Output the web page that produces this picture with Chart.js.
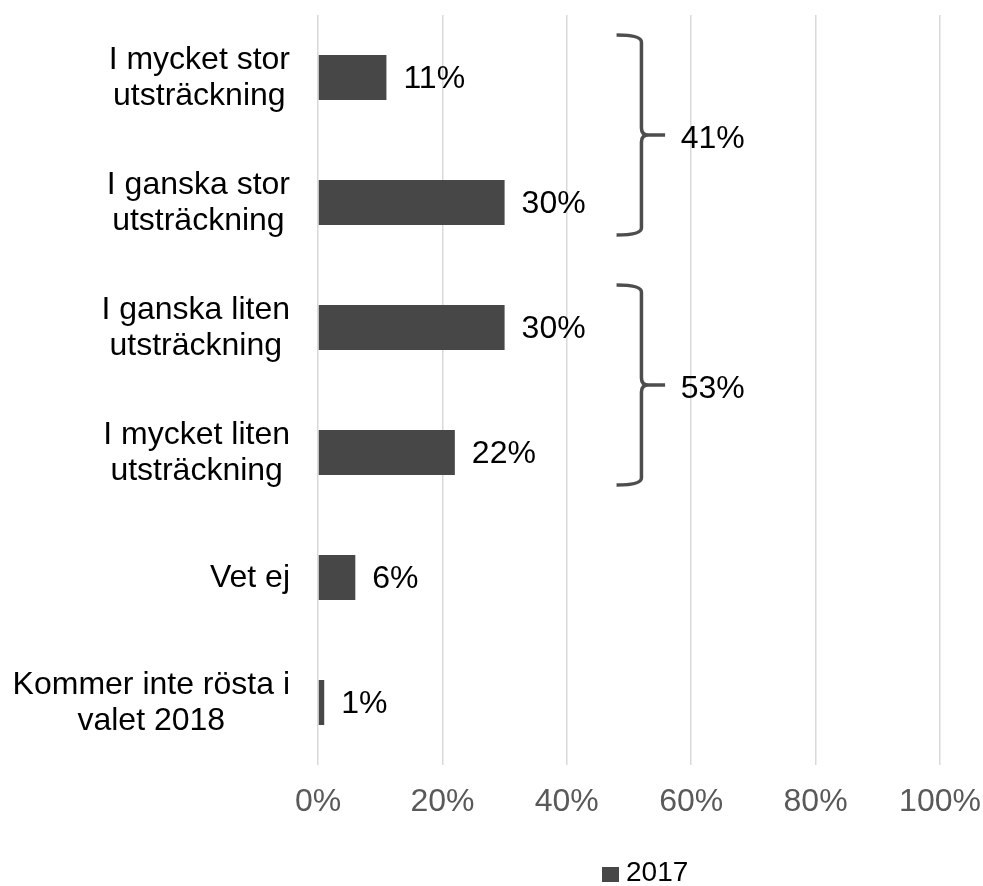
<!DOCTYPE html>
<html>
<head>
<meta charset="utf-8">
<script src="https://cdn.jsdelivr.net/npm/chart.js@4.4.1/dist/chart.umd.min.js"></script>
<style>
  html, body { margin: 0; padding: 0; background: #fff; }
  #wrap { width: 983px; height: 886px; position: relative; }
</style>
</head>
<body>
<div id="wrap"><canvas id="myChart"></canvas></div>
<script>
const categories = [
  ['I mycket stor', 'utsträckning'],
  ['I ganska stor', 'utsträckning'],
  ['I ganska liten', 'utsträckning'],
  ['I mycket liten', 'utsträckning'],
  ['Vet ej'],
  ['Kommer inte rösta i', 'valet 2018']
];
const values2017 = [11, 30, 30, 22, 6, 1];
const seriesName = '2017';
const xTicks = [0, 20, 40, 60, 80, 100];

// summed groups marked with a brace on the right
const groupRows = [[0, 1], [2, 3]];
const groupLabels = ['41%', '53%'];

const barColor = '#474747';
const labelFont = '"Liberation Sans", Arial, sans-serif';

// draws y labels (block right aligned, lines centered), value labels, braces and legend
const extras = {
  id: 'extras',
  afterDatasetsDraw(chart) {
    const ctx = chart.ctx;
    const x = chart.scales.x;
    const y = chart.scales.y;
    const area = chart.chartArea;
    ctx.save();

    // category labels
    ctx.fillStyle = '#000';
    ctx.font = '32px ' + labelFont;
    ctx.textBaseline = 'middle';
    ctx.textAlign = 'center';
    categories.forEach((lines, i) => {
      const w = Math.max(...lines.map(l => ctx.measureText(l).width));
      const cx = area.left - 28 - w / 2;
      const cy = y.getPixelForValue(i) + 1;
      lines.forEach((l, j) => {
        ctx.fillText(l, cx, cy + (j - (lines.length - 1) / 2) * 36);
      });
    });

    // value labels
    ctx.font = '32px ' + labelFont;
    ctx.textAlign = 'left';
    const meta = chart.getDatasetMeta(0);
    meta.data.forEach((bar, i) => {
      ctx.fillText(values2017[i] + '%', bar.x + 17, bar.y + 2);
    });

    // braces
    ctx.strokeStyle = '#4d4d4d';
    ctx.lineWidth = 3.5;
    groupRows.forEach((rows, g) => {
      const top = y.getPixelForValue(rows[0] - 0.34);
      const bot = y.getPixelForValue(rows[rows.length - 1] + 0.26);
      const mid = (top + bot) / 2;
      const x0 = x.getPixelForValue(48);
      const x1 = x.getPixelForValue(52);
      const x2 = x.getPixelForValue(55.8);
      const r = 7;
      ctx.beginPath();
      ctx.moveTo(x0, top);
      ctx.quadraticCurveTo(x1, top, x1, top + r);
      ctx.lineTo(x1, mid - r);
      ctx.quadraticCurveTo(x1, mid, x1 + r, mid);
      ctx.lineTo(x2, mid);
      ctx.moveTo(x1 + r, mid);
      ctx.quadraticCurveTo(x1, mid, x1, mid + r);
      ctx.lineTo(x1, bot - r);
      ctx.quadraticCurveTo(x1, bot, x0, bot);
      ctx.stroke();
      ctx.fillStyle = '#000';
      ctx.font = '32px ' + labelFont;
      ctx.fillText(groupLabels[g], x.getPixelForValue(58.3), mid + 4);
    });

    // legend
    ctx.fillStyle = barColor;
    ctx.fillRect(602, 867, 17, 15);
    ctx.fillStyle = '#000';
    ctx.font = '28px ' + labelFont;
    ctx.textBaseline = 'middle';
    ctx.fillText(seriesName, 626, 873);

    ctx.restore();
  }
};

const ctx = document.getElementById('myChart');

new Chart(ctx, {
  type: 'bar',
  data: {
    labels: categories,
    datasets: [{
      label: seriesName,
      data: values2017,
      backgroundColor: barColor,
      barPercentage: 0.36,
      categoryPercentage: 1
    }]
  },
  options: {
    indexAxis: 'y',
    responsive: true,
    maintainAspectRatio: false,
    animation: false,
    layout: { padding: { top: 15, right: 43, left: 0, bottom: 0 } },
    plugins: {
      legend: { display: false },
      tooltip: { enabled: false }
    },
    scales: {
      x: {
        min: 0,
        max: 100,
        afterBuildTicks: s => { s.ticks = xTicks.map(v => ({ value: v })); },
        afterFit: s => { s.height = 121; s.paddingLeft = 0; s.paddingRight = 0; },
        grid: { color: '#d9d9d9', lineWidth: 1.5, drawTicks: false },
        border: { display: false },
        ticks: {
          padding: 18,
          color: '#595959',
          font: { family: labelFont, size: 32 },
          callback: v => v + '%'
        }
      },
      y: {
        afterFit: s => { s.width = 318; },
        grid: { display: false },
        border: { display: false },
        ticks: { display: false }
      }
    }
  },
  plugins: [extras]
});
</script>
</body>
</html>
